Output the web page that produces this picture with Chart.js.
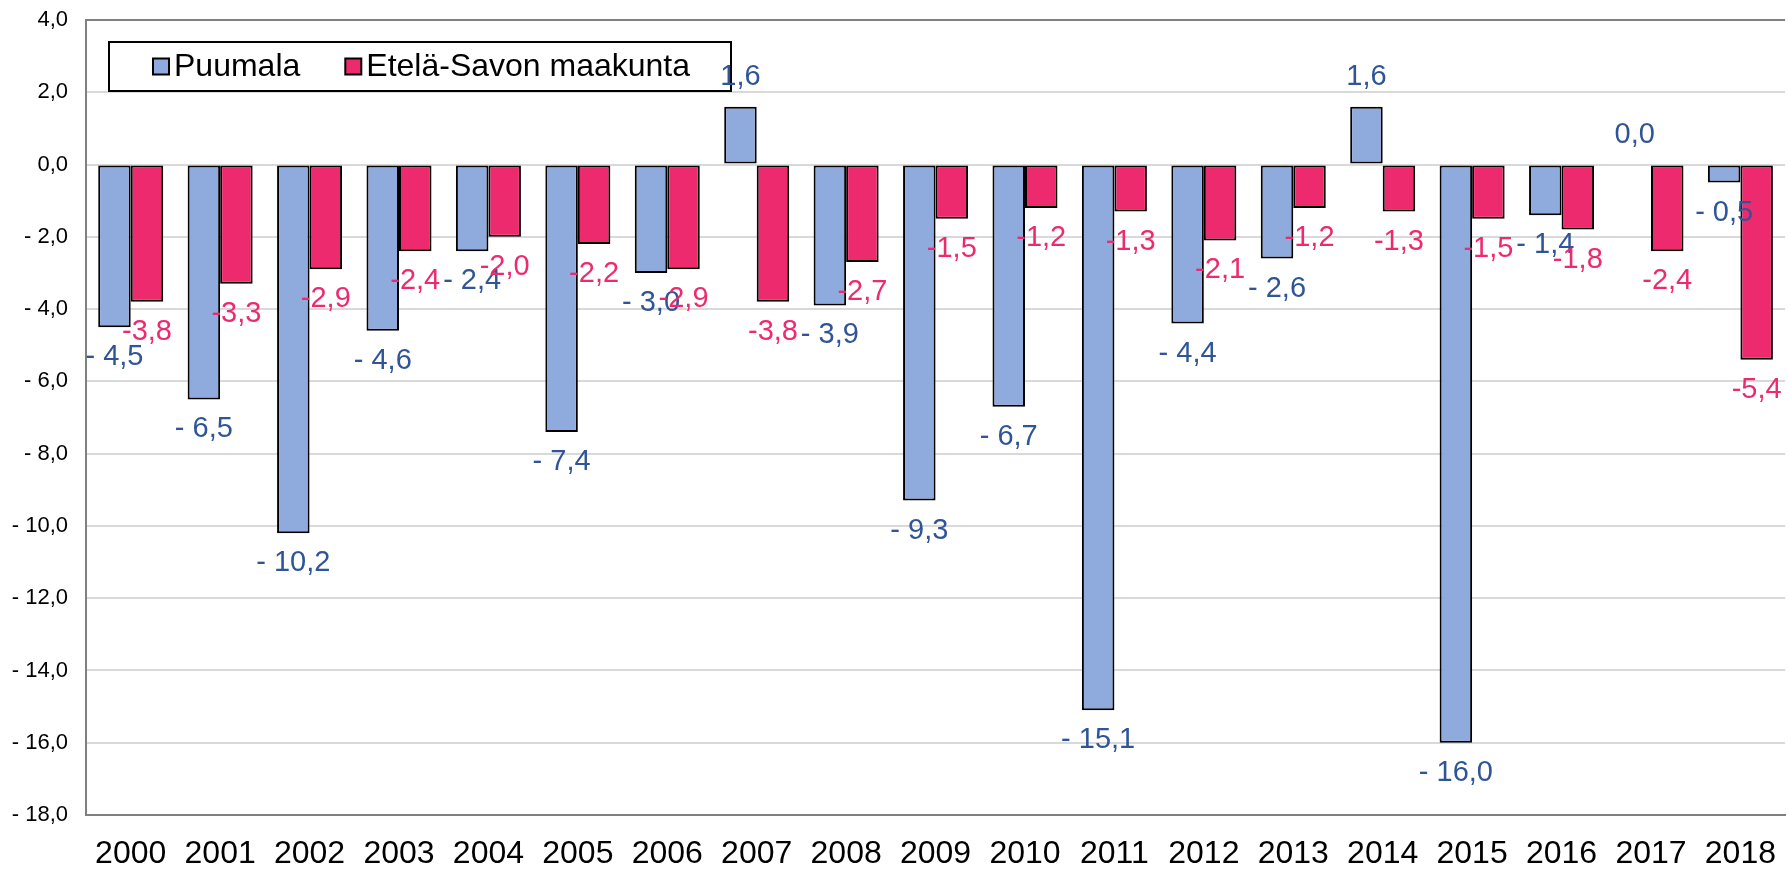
<!DOCTYPE html>
<html>

<head>
    <meta charset="utf-8" />
    <title>Puumala - Etelä-Savon maakunta</title>
    <script src="https://cdn.jsdelivr.net/npm/chart.js@4.4.1/dist/chart.umd.min.js"></script>
    <style>
        html, body { margin: 0; padding: 0; background: #fff; }
        #wrap { width: 1788px; height: 870px; }
    </style>
</head>

<body>
    <div id="wrap"><canvas id="myChart" width="1788" height="870"></canvas></div>

    <script type="text/javascript">

        // years on the x axis
        const years = ["2000", "2001", "2002", "2003", "2004", "2005", "2006", "2007", "2008", "2009",
            "2010", "2011", "2012", "2013", "2014", "2015", "2016", "2017", "2018"];

        // Puumala values
        const puumala = [-4.5, -6.5, -10.2, -4.6, -2.4, -7.4, -3.0, 1.6, -3.9, -9.3,
            -6.7, -15.1, -4.4, -2.6, 1.6, -16.0, -1.4, 0.0, -0.5];

        // Etelä-Savon maakunta values
        const etelaSavo = [-3.8, -3.3, -2.9, -2.4, -2.0, -2.2, -2.9, -3.8, -2.7, -1.5,
            -1.2, -1.3, -2.1, -1.2, -1.3, -1.5, -1.8, -2.4, -5.4];

        // y axis ticks
        const yMin = -18;
        const yMax = 4;
        const yStep = 2;

        const FONT = "'Liberation Sans', Arial, sans-serif";
        const BLUE = '#8FAADC';
        const RED = '#EE2A6F';
        const BLUE_TEXT = '#2F5597';
        const RED_TEXT = '#EE2A6F';

        // finnish number format, "- 4,5" style for puumala and "-3,8" for the region
        const fmt = (v, spaced) => {
            const s = Math.abs(v).toFixed(1).replace('.', ',');
            if (v < 0) return (spaced ? '- ' : '-') + s;
            return s;
        };

        // value labels at the bar ends
        const valueLabels = {
            id: 'valueLabels',
            afterDraw(chart) {
                const ctx = chart.ctx;
                ctx.save();
                ctx.font = `29px ${FONT}`;
                ctx.textAlign = 'center';
                ctx.textBaseline = 'middle';
                chart.data.datasets.forEach((ds, i) => {
                    const meta = chart.getDatasetMeta(i);
                    meta.data.forEach((bar, j) => {
                        const v = ds.data[j];
                        const off = 30;
                        const y = v >= 0 ? bar.y - off : bar.y + off;
                        ctx.fillStyle = i === 0 ? BLUE_TEXT : RED_TEXT;
                        ctx.fillText(fmt(v, i === 0), bar.x, y);
                    });
                });
                ctx.restore();
            }
        };

        // boxed legend inside the plot
        const boxLegend = {
            id: 'boxLegend',
            afterDatasetsDraw(chart) {
                const ctx = chart.ctx;
                const a = chart.chartArea;
                const left = a.left + 23, top = a.top + 22, w = 622, h = 49;
                ctx.save();
                ctx.fillStyle = '#fff';
                ctx.fillRect(left, top, w, h);
                ctx.strokeStyle = '#000';
                ctx.lineWidth = 2;
                ctx.strokeRect(left, top, w, h);
                ctx.font = `32px ${FONT}`;
                ctx.textBaseline = 'middle';
                let x = left + 44;
                const cy = top + h / 2;
                chart.data.datasets.forEach(ds => {
                    ctx.fillStyle = ds.backgroundColor;
                    ctx.fillRect(x, cy - 8, 16, 16);
                    ctx.lineWidth = 2;
                    ctx.strokeRect(x, cy - 8, 16, 16);
                    ctx.fillStyle = '#000';
                    ctx.fillText(ds.label, x + 21, cy + 1);
                    x += 21 + ctx.measureText(ds.label).width + 45;
                });
                ctx.restore();
            }
        };

        const ctx = document.getElementById('myChart');
        new Chart(ctx, {
            type: 'bar',
            data: {
                labels: years,
                datasets: [{
                    label: 'Puumala',
                    data: puumala,
                    backgroundColor: BLUE,
                    borderColor: '#000',
                    borderWidth: 2,
                    borderSkipped: false,
                    categoryPercentage: 0.727,
                    barPercentage: 1.0
                }, {
                    label: 'Etelä-Savon maakunta',
                    data: etelaSavo,
                    backgroundColor: RED,
                    borderColor: '#000',
                    borderWidth: 2,
                    borderSkipped: false,
                    categoryPercentage: 0.727,
                    barPercentage: 1.0
                }]
            },
            options: {
                responsive: false,
                animation: false,
                layout: { padding: { top: 20, right: 0, left: 0, bottom: 0 } },
                plugins: {
                    legend: { display: false },
                    tooltip: { enabled: false }
                },
                scales: {
                    x: {
                        grid: { display: false },
                        border: { display: true, color: '#808080', width: 2 },
                        ticks: {
                            color: '#000',
                            font: { family: FONT, size: 32 },
                            padding: 12,
                            maxRotation: 0
                        },
                        afterFit(scale) { scale.height = 55; }
                    },
                    y: {
                        min: yMin,
                        max: yMax,
                        grid: {
                            color: c => c.tick && c.tick.value === yMax ? '#808080' : '#D9D9D9',
                            lineWidth: 2,
                            drawTicks: false
                        },
                        border: { display: true, color: '#808080', width: 2 },
                        ticks: {
                            stepSize: yStep,
                            color: '#000',
                            font: { family: FONT, size: 22 },
                            padding: 18,
                            callback: v => fmt(v, true)
                        },
                        afterFit(scale) {
                            scale.width = 86;
                            scale.paddingTop = 0;
                            scale.paddingBottom = 0;
                        }
                    }
                }
            },
            plugins: [valueLabels, boxLegend]
        });

    </script>

</body>

</html>
